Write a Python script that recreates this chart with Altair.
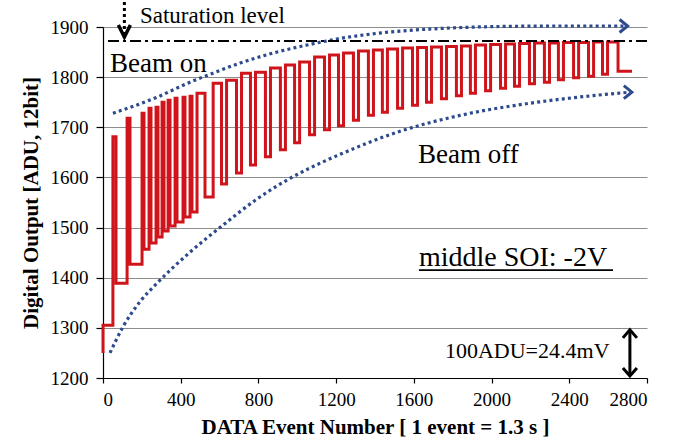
import altair as alt
import pandas as pd

# ---------------- data ----------------
# red trace: start event of each constant level, and the level (ADU)
seg_start = [0, 51, 67, 124, 139, 201, 211, 237, 247, 273, 283, 304, 314, 335, 345, 371, 381, 412, 422, 448, 458, 484,
             525, 567, 610, 636, 687, 713, 759, 785, 836, 862, 913, 939, 986, 1012, 1063, 1089, 1140, 1166, 1212, 1238,
             1289, 1315, 1366, 1392, 1438, 1464, 1516, 1542, 1593, 1619, 1665, 1691, 1742, 1768, 1819, 1845, 1891, 1917,
             1969, 1995, 2046, 2072, 2118, 2144, 2195, 2221, 2272, 2298, 2344, 2370, 2422, 2448, 2499, 2525, 2571, 2597, 2651]
seg_level = [1305, 1681, 1389, 1718, 1427, 1728, 1457, 1738, 1469, 1740, 1481, 1750, 1493, 1754, 1503, 1758, 1511, 1760, 1521, 1762, 1531, 1768,
             1561, 1788, 1587, 1794, 1609, 1808, 1625, 1810, 1641, 1818, 1655, 1824, 1669, 1830, 1685, 1840, 1695, 1844, 1703, 1848,
             1714, 1852, 1724, 1854, 1730, 1856, 1738, 1858, 1744, 1859, 1750, 1860, 1757, 1861, 1763, 1862, 1768, 1864,
             1773, 1865, 1778, 1866, 1782, 1867, 1787, 1868, 1790, 1868, 1795, 1869, 1799, 1869, 1802, 1870, 1806, 1870, 1812]
trace_first_value = 1250
trace_end = 2723

# blue dotted guide curves
upper_x = [51, 278, 448, 566, 705, 875, 1050, 1204, 1477, 1735, 2043, 2352, 2690]
upper_y = [1728, 1760, 1790, 1808, 1828, 1848, 1864, 1876, 1890, 1897, 1901, 1902, 1902]
lower_x = [36, 103, 190, 278, 448, 618, 793, 962, 1132, 1220, 1513, 1853, 2198, 2543, 2712]
lower_y = [1250, 1302, 1352, 1389, 1451, 1505, 1557, 1598, 1631, 1646, 1690, 1725, 1748, 1764, 1770]

saturation_level = 1872

x_ticks = [0, 400, 800, 1200, 1600, 2000, 2400, 2800]
y_ticks = [1200, 1300, 1400, 1500, 1600, 1700, 1800, 1900]

# ---------------- build tables ----------------
assert len(seg_start) == len(seg_level)
rows = [{"x": 0, "y": trace_first_value, "o": 0}]
k = 1
for i, (s, lv) in enumerate(zip(seg_start, seg_level)):
    e = seg_start[i + 1] if i + 1 < len(seg_start) else trace_end
    rows.append({"x": s, "y": lv, "o": k}); k += 1
    rows.append({"x": e, "y": lv, "o": k}); k += 1
trace = pd.DataFrame(rows)

upper = pd.DataFrame({"x": upper_x, "y": upper_y, "o": range(len(upper_x))})
lower = pd.DataFrame({"x": lower_x, "y": lower_y, "o": range(len(lower_x))})

SERIF = "Liberation Serif"
RED = "#d0141c"
BLUE = "#2d4b8c"

xs = alt.Scale(domain=[0, 2800], nice=False, zero=False)
ys = alt.Scale(domain=[1200, 1900], nice=False, zero=False)
x_axis = alt.Axis(values=x_ticks, title="DATA Event Number [ 1 event = 1.3 s ]", grid=False,
                  tickSize=5, labelPadding=7, titlePadding=7, format="d")
y_axis = alt.Axis(values=y_ticks, title="Digital Output [ADU, 12bit]", grid=True,
                  tickSize=7, labelPadding=8, titlePadding=9, format="d")


def X():
    return alt.X("x:Q", scale=xs, axis=x_axis)


def Y():
    return alt.Y("y:Q", scale=ys, axis=y_axis)


red_trace = alt.Chart(trace).mark_line(color=RED, strokeWidth=3, strokeJoin="miter").encode(
    x=X(), y=Y(), order="o:Q")

dotted_upper = alt.Chart(upper).mark_line(color=BLUE, strokeWidth=3.2, strokeDash=[3, 3.2],
                                          interpolate="monotone", strokeCap="butt").encode(
    x=X(), y=Y(), order="o:Q")
dotted_lower = alt.Chart(lower).mark_line(color=BLUE, strokeWidth=3.2, strokeDash=[3, 3.2],
                                          interpolate="monotone", strokeCap="butt").encode(
    x=X(), y=Y(), order="o:Q")

arrow_heads = alt.Chart(pd.DataFrame({"x": [2700, 2722], "y": [1902, 1770]})).mark_point(
    shape="M-1.6,-1.3L0,0L-1.6,1.3", size=100, filled=False, stroke=BLUE, strokeWidth=3, opacity=1
).encode(x=X(), y=Y())

sat_line = alt.Chart(pd.DataFrame({"y": [saturation_level]})).mark_rule(
    color="black", strokeWidth=2, strokeDash=[11, 4, 3, 4]).encode(y=Y())

sat_shaft = alt.Chart(pd.DataFrame({"x": [110], "y": [1950], "y2": [1886]})).mark_rule(
    color="black", strokeWidth=3, strokeDash=[3, 3]).encode(x=X(), y=Y(), y2="y2:Q")
sat_head = alt.Chart(pd.DataFrame({"x": [110], "y": [1880]})).mark_point(
    shape="M-1.2,-2.4L0,0L1.2,-2.4", size=100, filled=False, stroke="black", strokeWidth=3.5, opacity=1
).encode(x=X(), y=Y())

dbl_shaft = alt.Chart(pd.DataFrame({"x": [2712], "y": [1294], "y2": [1206]})).mark_rule(
    color="black", strokeWidth=3).encode(x=X(), y=Y(), y2="y2:Q")
dbl_up = alt.Chart(pd.DataFrame({"x": [2712], "y": [1296]})).mark_point(
    shape="M-1.4,1.6L0,0L1.4,1.6", size=100, filled=False, stroke="black", strokeWidth=3, opacity=1
).encode(x=X(), y=Y())
dbl_down = alt.Chart(pd.DataFrame({"x": [2712], "y": [1204]})).mark_point(
    shape="M-1.4,-1.6L0,0L1.4,-1.6", size=100, filled=False, stroke="black", strokeWidth=3, opacity=1
).encode(x=X(), y=Y())


def label(txt, x, y, size):
    return alt.Chart(pd.DataFrame({"x": [x], "y": [y], "t": [txt]})).mark_text(
        align="left", baseline="alphabetic", font=SERIF, fontSize=size, color="black"
    ).encode(x=X(), y=Y(), text="t:N")


t_sat = label("Saturation level", 190, 1908, 23)
t_on = label("Beam on", 36, 1811, 27)
t_off = label("Beam off", 1621, 1629, 27)
t_soi = label("middle SOI: -2V", 1626, 1423, 28)
t_adu = label("100ADU=24.4mV", 1760, 1240, 22)
underline = alt.Chart(pd.DataFrame({"x": [1626], "x2": [2625], "y": [1415]})).mark_rule(
    color="black", strokeWidth=1.8).encode(x=X(), x2="x2:Q", y=Y())

chart = alt.layer(
    red_trace, dotted_upper, dotted_lower, arrow_heads, sat_line, sat_shaft, sat_head,
    dbl_shaft, dbl_up, dbl_down, t_sat, t_on, t_off, t_soi, t_adu, underline
).properties(
    width=544, height=351,
    autosize=alt.AutoSizeParams(type="none"),
    padding={"left": 103, "top": 27, "right": 38, "bottom": 65},
    background="white",
).configure_view(stroke=None).configure_axis(
    domainColor="black", domainWidth=1.2, tickColor="black", tickWidth=1.2,
    gridColor="#8c8c8c", gridWidth=1,
    labelFont=SERIF, labelFontSize=19, labelColor="black",
    titleFont=SERIF, titleFontSize=21, titleFontWeight="bold", titleColor="black",
)

chart.save("out.html", embed_options={"renderer": "svg", "actions": False})
